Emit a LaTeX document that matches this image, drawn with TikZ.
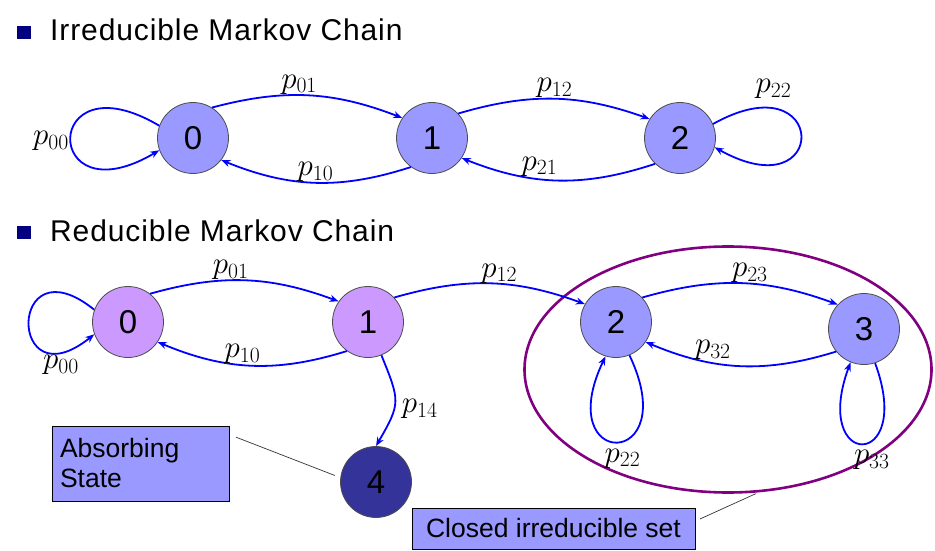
\RequirePackage{fix-cm}
\documentclass[tikz,border=0pt]{standalone}
\usepackage{fontspec}
\setsansfont{Liberation Sans}
\newfontfamily\headfont[LetterSpace=3]{Liberation Sans}
\usepackage{tikz}
\usetikzlibrary{arrows.meta, shapes.geometric}
\definecolor{peri}{HTML}{9999FF}
\definecolor{lilac}{HTML}{CC99FF}
\definecolor{absorb}{HTML}{333399}
\definecolor{setline}{HTML}{800080}
\definecolor{bullet}{HTML}{000080}
\tikzset{>={Stealth[length=9pt, width=7pt]}}
\tikzset{
    state/.style={circle, draw=black!70, line width=0.8pt, fill=peri, minimum size=71pt, inner sep=0pt, font=\fontsize{33}{33}\sffamily},
    trans/.style={->, blue, line width=1.8pt},
    prob/.style={font=\fontsize{31}{31}\selectfont, inner sep=1pt, text=black},
    infobox/.style={draw=black, line width=0.8pt, fill=peri, font=\fontsize{26.5}{30}\sffamily},
    callout/.style={black!80, line width=0.7pt},
    heading/.style={anchor=base west, inner sep=0pt, font=\fontsize{30}{30}\headfont},
    bulletbox/.style={fill=bullet, minimum width=14pt, minimum height=13pt, inner sep=0pt},
}

\begin{document}
\begin{tikzpicture}[x=1pt, y=1pt]
    \useasboundingbox(0, 0)rectangle(935, -551);
    \node[bulletbox](bul1)at(23.5, -32.5){};
    \node[heading](head1)at(50, -41){Irreducible Markov Chain};
    \node[bulletbox](bul2)at(23.5, -232.5){};
    \node[heading](head2)at(50, -241){Reducible Markov Chain};
    % irreducible chain
    \node[state](t0)at(193, -138){0};
    \node[state](t1)at(432, -138){1};
    \node[state](t2)at(680, -138){2};
    \draw[trans](t0.58)to[bend left=18]node[prob, pos=0.45, above, inner sep=0pt](l01){$p_{01}$}(t1.146);
    \draw[trans](t1.234)to[bend left=20]node[prob, midway, above, inner sep=0pt](l10){$p_{10}$}(t0.-38);
    \draw[trans](t1.43)to[bend left=18]node[prob, midway, above, inner sep=0pt](l12){$p_{12}$}(t2.148);
    \draw[trans](t2.226)to[bend left=20]node[prob, pos=0.6, above=2pt, inner sep=0pt](l21){$p_{21}$}(t1.-34);
    \draw[trans](t0.160)..controls+(-118, 70)and+(-118, -70)..node[prob, left, yshift=-3pt](l00){$p_{00}$}(t0.200);
    \draw[trans](t2.23)..controls+(116, 65)and+(116, -65)..node[prob, pos=0.25, above=9pt, xshift=-5pt](l22){$p_{22}$}(t2.-15);
    % reducible chain
    \node[state, fill=lilac](r0)at(128, -322){0};
    \node[state, fill=lilac](r1)at(368, -322){1};
    \node[state](r2)at(616, -322){2};
    \node[state](r3)at(864, -329){3};
    \node[state, fill=absorb](r4)at(376, -482){4};
    \node[ellipse, draw=setline, line width=2.6pt, minimum width=407pt, minimum height=246pt, inner sep=0pt](cset)at(728, -369.5){};
    \draw[trans](r0.52)to[bend left=18]node[prob, pos=0.42, above, inner sep=0pt](m01){$p_{01}$}(r1.145);
    \draw[trans](r1.234)to[bend left=20]node[prob, pos=0.55, above, inner sep=0pt](m10){$p_{10}$}(r0.-34);
    \draw[trans](r1.43)to[bend left=18]node[prob, pos=0.55, above, inner sep=0pt](m12){$p_{12}$}(r2.150);
    \draw[trans](r2.43)to[bend left=18]node[prob, pos=0.55, above, inner sep=0pt](m23){$p_{23}$}(r3.137);
    \draw[trans](r3.219)to[bend left=20]node[prob, pos=0.65, above=2pt, inner sep=0pt](m32){$p_{32}$}(r2.-34);
    \draw[trans](r1.-68)to[out=-68, in=60, looseness=1.4]node[prob, pos=0.6, right=6pt](m14){$p_{14}$}(r4.90);
    \draw[trans](r0.160)..controls+(-87, 70)and+(-87, -70)..node[prob, pos=0.85, below=2pt](m00){$p_{00}$}(r0.200);
    \draw[trans](r2.-68)..controls+(55, -115)and+(-55, -115)..node[prob, midway, below=5pt, xshift=5pt](m22){$p_{22}$}(r2.-107);
    \draw[trans](r3.-72)..controls+(40, -108)and+(-40, -108)..node[prob, midway, below=5pt, xshift=9pt](m33){$p_{33}$}(r3.-112);
    % labels
    \node[infobox, minimum width=177pt, minimum height=75pt, text width=161pt, align=left, inner xsep=8pt](absbox)at(140.5, -463.5){Absorbing\\State};
    \node[infobox, minimum width=283pt, minimum height=41pt, inner sep=0pt](cbox)at(553.5, -528.5){Closed irreducible set};
    \draw[callout, shorten <=7pt, shorten >=6pt](absbox.18)--(r4.173);
    \draw[callout, shorten <=5pt, shorten >=3pt](cbox.3)--(cset.-76);
\end{tikzpicture}
\end{document}
